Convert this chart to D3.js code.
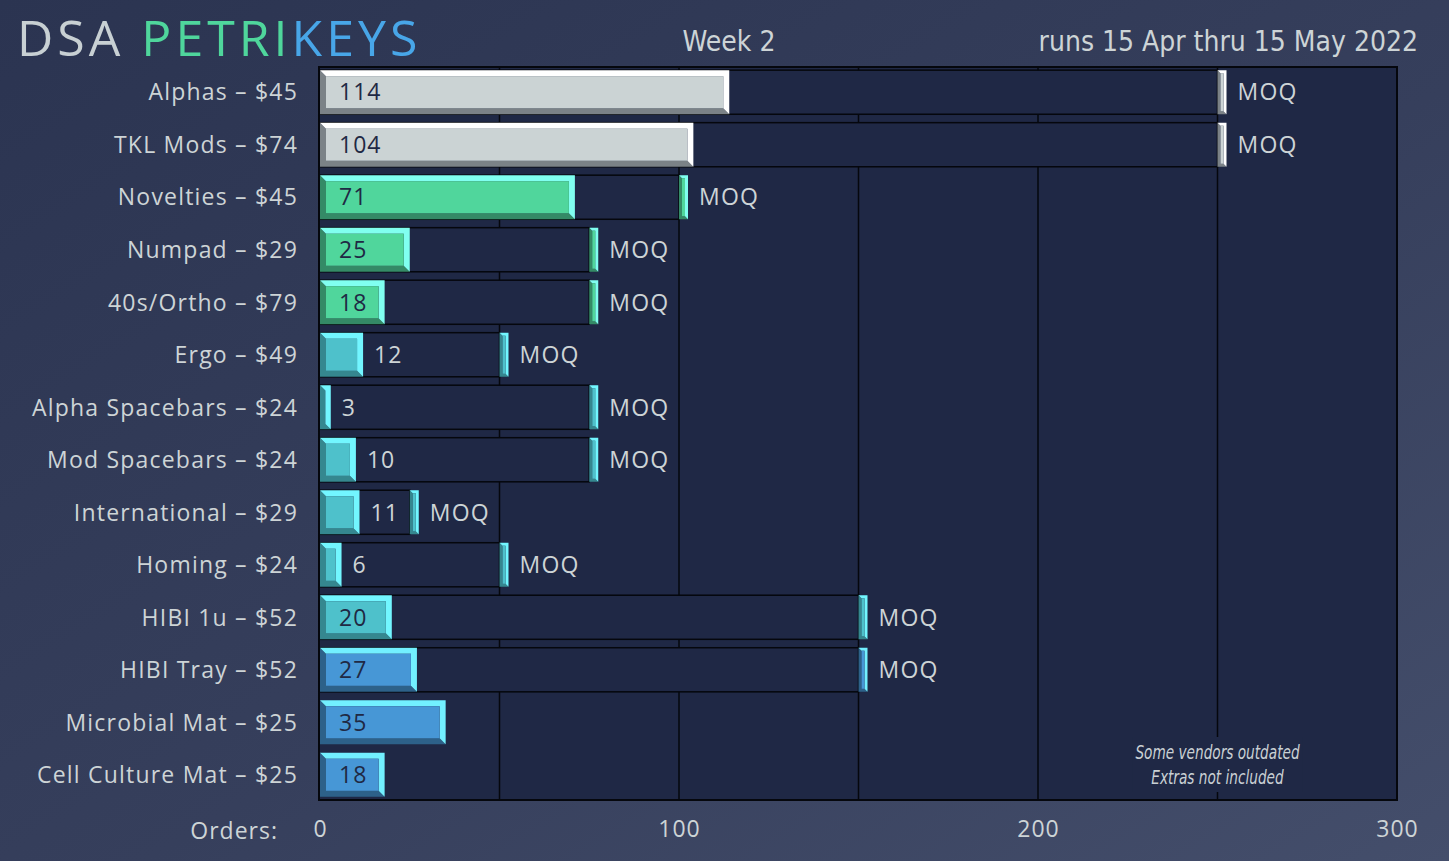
<!DOCTYPE html>
<html>
<head>
<meta charset="utf-8">
<script src="https://cdn.jsdelivr.net/npm/d3@7"></script>
<style>
html,body{margin:0;padding:0;overflow:hidden;background:#333c59;}
svg{display:block;}
</style>
</head>
<body>
<div id="chart"></div>
<script>
// data
const categories = ["Alphas – $45","TKL Mods – $74","Novelties – $45","Numpad – $29","40s/Ortho – $79","Ergo – $49","Alpha Spacebars – $24","Mod Spacebars – $24","International – $29","Homing – $24","HIBI 1u – $52","HIBI Tray – $52","Microbial Mat – $25","Cell Culture Mat – $25"];
const orders = [114,104,71,25,18,12,3,10,11,6,20,27,35,18];
const moq = [250,250,100,75,75,50,75,75,25,50,150,150,null,null];
const groups = ["gray","gray","green","green","green","teal","teal","teal","teal","teal","teal","blue","blue","blue"];
const xTicks = [0,100,200,300];
const gridVals = [50,100,150,200,250];
const notes = ["Some vendors outdated","Extras not included"];

const palette = {
  gray:  {fill:"#cbd3d4", light:"#ffffff", dark:"#7b8287"},
  green: {fill:"#50d69c", light:"#80fff0", dark:"#348a66"},
  teal:  {fill:"#4ec1cb", light:"#72f6ff", dark:"#35878f"},
  blue:  {fill:"#4797d6", light:"#72f0ff", dark:"#2d6189"}
};

const W = 1449, H = 861;
const margin = {top:67, right:52, bottom:61, left:320};
const labelFont = "'Open Sans', Lato, sans-serif";
const narrowFont = "'Liberation Sans Narrow', 'DejaVu Sans Condensed', sans-serif";
const txt = "#cdd4d6";

const svg = d3.select("#chart").append("svg")
  .attr("width", W).attr("height", H);

const defs = svg.append("defs");
const bg = defs.append("linearGradient").attr("id","bg")
  .attr("x1","0").attr("y1","0").attr("x2","1").attr("y2","1");
bg.append("stop").attr("offset","0%").attr("stop-color","#2b3451");
bg.append("stop").attr("offset","55%").attr("stop-color","#363f5c");
bg.append("stop").attr("offset","100%").attr("stop-color","#444e6b");
svg.append("rect").attr("width",W).attr("height",H).attr("fill","url(#bg)");

const x = d3.scaleLinear().domain([0,300]).range([margin.left, W - margin.right]);
const y = d3.scaleBand().domain(categories).range([margin.top, H - margin.bottom]).paddingInner(0.16).paddingOuter(0.06);

const plotFill = "#1f2845";

// plot panel
svg.append("rect")
  .attr("x", x(0)-1).attr("y", margin.top)
  .attr("width", x(300)-x(0)+1).attr("height", H - margin.bottom - margin.top)
  .attr("fill", plotFill);

// gridlines
svg.append("g").selectAll("line").data(gridVals).join("line")
  .attr("x1", d => x(d)).attr("x2", d => x(d))
  .attr("y1", margin.top).attr("y2", H - margin.bottom)
  .attr("stroke", "#05070d").attr("stroke-width", 1.5);

// footnote, with a patch of panel colour behind it
const noteX = x(250);
svg.append("rect").attr("x", noteX-85).attr("y", 737).attr("width", 170).attr("height", 55).attr("fill", plotFill);
svg.append("g").attr("transform", `translate(${noteX},0) scale(0.8,1)`)
  .selectAll("text").data(notes).join("text")
  .attr("x", 0).attr("y", (d,i) => 759 + i*25)
  .attr("text-anchor","middle")
  .attr("font-family", narrowFont).attr("font-style","italic")
  .attr("font-size", 19).attr("fill", "#c9d0d4")
  .text(d => d);

const rows = categories.map((c,i) => ({cat:c, val:orders[i], moq:moq[i], col:palette[groups[i]]}));

// draw a bevelled block: light top/right, dark left/bottom
function bevel(g, x0, y0, w, h, b, col){
  b = Math.min(b, w/2, h/2);
  g.append("polygon")
    .attr("points", [[x0,y0],[x0+b,y0+b],[x0+b,y0+h-b],[x0+w-b,y0+h-b],[x0+w,y0+h],[x0,y0+h]].join(" "))
    .attr("fill", col.dark);
  g.append("polygon")
    .attr("points", [[x0,y0],[x0+w,y0],[x0+w,y0+h],[x0+w-b,y0+h-b],[x0+w-b,y0+b],[x0+b,y0+b]].join(" "))
    .attr("fill", col.light);
  if (w - 2*b > 0)
    g.append("rect").attr("x", x0+b).attr("y", y0+b).attr("width", w-2*b).attr("height", h-2*b).attr("fill", col.fill);
}

const rowG = svg.append("g").selectAll("g").data(rows).join("g");

rowG.each(function(d){
  const g = d3.select(this);
  const y0 = y(d.cat), h = y.bandwidth();
  // MOQ track
  if (d.moq != null){
    g.append("rect")
      .attr("x", x(0)).attr("y", y0)
      .attr("width", x(d.moq)-x(0)).attr("height", h)
      .attr("fill", plotFill).attr("stroke", "#05070d").attr("stroke-width", 1.5);
  }
  // order bar
  bevel(g, x(0), y0, x(d.val)-x(0), h, 6, d.col);
  if (d.moq != null){
    bevel(g, x(d.moq), y0, 9, h, 3, d.col);
    g.append("text")
      .attr("x", x(d.moq)+20).attr("y", y0 + h/2)
      .attr("dy","0.36em")
      .attr("font-family", labelFont).attr("font-size", 23).attr("letter-spacing", 1.2)
      .attr("fill", txt).text("MOQ");
  }
  const inside = x(d.val)-x(0) > 50;
  g.append("text")
    .attr("x", inside ? x(0)+19 : x(d.val)+11)
    .attr("y", y0 + h/2).attr("dy","0.36em")
    .attr("font-family", labelFont).attr("font-size", 23).attr("letter-spacing", 1)
    .attr("fill", inside ? "#1f2944" : txt)
    .text(d.val);
});

// plot border
svg.append("rect")
  .attr("x", x(0)-1).attr("y", margin.top)
  .attr("width", x(300)-x(0)+1).attr("height", H - margin.bottom - margin.top)
  .attr("fill", "none").attr("stroke", "#05070d").attr("stroke-width", 2);

// category labels
svg.append("g").selectAll("text").data(categories).join("text")
  .attr("x", 298).attr("y", d => y(d) + y.bandwidth()/2)
  .attr("dy","0.36em").attr("text-anchor","end")
  .attr("font-family", labelFont).attr("font-size", 23).attr("letter-spacing", 1.2)
  .attr("fill", txt).text(d => d);

// x axis
const xAxis = svg.append("g")
  .attr("transform", `translate(0,${H - margin.bottom})`)
  .call(d3.axisBottom(x).tickValues(xTicks).tickSize(0).tickPadding(21));
xAxis.select(".domain").remove();
xAxis.selectAll("text")
  .attr("font-family", labelFont).attr("font-size", 23).attr("letter-spacing", 1).attr("fill", txt);
svg.append("text").attr("x", 278).attr("y", 839).attr("text-anchor","end")
  .attr("font-family", labelFont).attr("font-size", 23).attr("letter-spacing", 1).attr("fill", txt)
  .text("Orders:");

// title
const title = svg.append("text").attr("x", 17).attr("y", 56)
  .attr("font-family", labelFont).attr("font-size", 50).attr("letter-spacing", 4);
title.append("tspan").attr("fill", "#c8d0d3").text("DSA ");
title.append("tspan").attr("fill", "#4fd69c").text("PETRI");
title.append("tspan").attr("fill", "#48a6e8").text("KEYS");

svg.append("text").attr("x", 729).attr("y", 51).attr("text-anchor","middle")
  .attr("font-family", narrowFont).attr("font-size", 28).attr("fill", txt)
  .text("Week 2");
svg.append("text").attr("x", 1418).attr("y", 51).attr("text-anchor","end")
  .attr("font-family", narrowFont).attr("font-size", 28).attr("fill", txt)
  .text("runs 15 Apr thru 15 May 2022");
</script>
</body>
</html>
